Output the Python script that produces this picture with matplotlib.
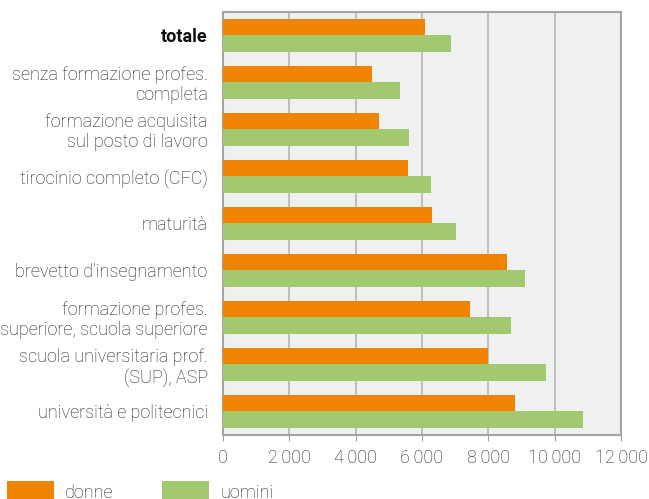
import matplotlib.pyplot as plt
import matplotlib.ticker as mticker
import numpy as np

plt.rcParams['font.family'] = ['Roboto', 'DejaVu Sans']

categories = ['totale',
              'senza formazione profes.\ncompleta',
              'formazione acquisita\nsul posto di lavoro',
              'tirocinio completo (CFC)',
              'maturità',
              'brevetto d’insegnamento',
              'formazione profes.\nsuperiore, scuola superiore',
              'scuola universitaria prof.\n(SUP), ASP',
              'università e politecnici']
donne = [6090, 4490, 4700, 5580, 6300, 8560, 7450, 7980, 8800]
uomini = [6870, 5340, 5610, 6270, 7020, 9100, 8680, 9740, 10850]

orange = '#F08300'
green = '#A2C870'
txt = '#1E1E1E'

fig = plt.figure(figsize=(6.49, 4.99), dpi=100)
ax = fig.add_axes([0.3436, 0.1283, 0.6134, 0.8477])

y = np.arange(len(categories))
h = 0.35
ax.barh(y - h / 2, donne, height=h, color=orange, label='donne', zorder=3)
ax.barh(y + h / 2, uomini, height=h, color=green, label='uomini', zorder=3)

ax.set_ylim(len(categories) - 0.5, -0.5)
ax.set_xlim(0, 12000)
ax.set_yticks(y)
ax.set_yticklabels(categories, fontsize=13, color=txt, fontweight='light', linespacing=1.1)
ax.get_yticklabels()[0].set_fontweight('bold')
ax.get_yticklabels()[0].set_color('#111111')
ax.tick_params(axis='y', length=0, pad=11)

ax.set_xticks(np.arange(0, 12001, 2000))
ax.xaxis.set_major_formatter(mticker.FuncFormatter(lambda v, p: f'{int(v):,}'.replace(',', '\u2009')))
ax.tick_params(axis='x', length=4, color='#A0A0A0', labelsize=13, labelcolor=txt, pad=6)
for lab in ax.get_xticklabels():
    lab.set_fontweight('light')

ax.set_facecolor('#EFF0F0')
ax.grid(axis='x', color='#B4B4B4', linewidth=1.2, zorder=0)
for s in ax.spines.values():
    s.set_color('#A4A4A4')
    s.set_linewidth(1.5)

leg = fig.legend(loc='lower left', bbox_to_anchor=(0.0, -0.02), ncol=2, frameon=False,
                 fontsize=13, handlelength=2.6, handleheight=1.35, columnspacing=2.7,
                 handletextpad=0.6, borderaxespad=0.0, labelcolor=txt)
for t in leg.get_texts():
    t.set_fontweight('light')

fig.savefig('out.png', dpi=100)
